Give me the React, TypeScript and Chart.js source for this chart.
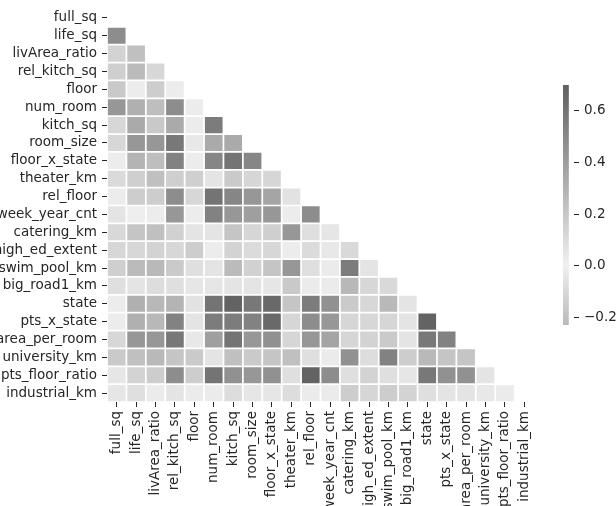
import React, { useEffect, useRef } from 'react';
import { Chart, registerables } from 'chart.js';

Chart.register(...registerables);

const variables = [
  'full_sq', 'life_sq', 'livArea_ratio', 'rel_kitch_sq', 'floor', 'num_room', 'kitch_sq',
  'room_size', 'floor_x_state', 'theater_km', 'rel_floor', 'week_year_cnt', 'catering_km',
  'high_ed_extent', 'swim_pool_km', 'big_road1_km', 'state', 'pts_x_state', 'area_per_room',
  'university_km', 'pts_floor_ratio', 'industrial_km',
];

// Lower triangle of the correlation matrix: each row holds the values against the earlier variables
const fullSqRow: number[] = [];
const lifeSqRow = [0.48];
const livAreaRatioRow = [-0.12, 0.23];
const relKitchSqRow = [-0.14, -0.22, 0.12];
const floorRow = [0.19, 0.02, 0.17, 0.02];
const numRoomRow = [0.43, 0.31, 0.24, 0.48, 0.02];
const kitchSqRow = [0.12, 0.34, 0.19, 0.34, 0.02, 0.56];
const roomSizeRow = [0.12, 0.43, 0.43, 0.58, 0.04, 0.34, 0.34];
const floorXStateRow = [0.02, 0.29, 0.24, 0.53, 0.02, 0.51, 0.6, 0.51];
const theaterKmRow = [-0.09, -0.14, -0.2, -0.14, -0.14, -0.05, -0.16, -0.11, -0.11];
const relFloorRow = [0.02, 0.17, 0.17, 0.48, 0.12, 0.6, 0.51, 0.43, 0.36, -0.06];
const weekYearCntRow = [0.06, 0.01, 0.02, 0.43, 0.02, 0.53, 0.43, 0.39, 0.43, 0.02, 0.48];
const cateringKmRow = [-0.1, -0.18, -0.2, -0.13, -0.05, -0.05, -0.18, -0.11, -0.14, 0.43, -0.07, -0.04];
const highEdExtentRow = [0.12, 0.12, 0.14, 0.12, 0.17, 0.02, 0.14, 0.1, 0.12, 0.02, 0.1, 0.04, 0.11];
const swimPoolKmRow = [-0.14, -0.22, -0.23, -0.16, -0.07, -0.05, -0.22, -0.13, -0.18, 0.43, -0.07, -0.02, 0.56, -0.05];
const bigRoad1KmRow = [-0.07, -0.05, -0.08, -0.07, -0.04, -0.04, -0.05, -0.05, -0.04, 0.19, -0.02, -0.02, 0.27, 0.12, 0.11];
const stateRow = [0.02, 0.31, 0.27, 0.29, 0.07, 0.6, 0.68, 0.58, 0.65, -0.18, 0.56, 0.46, -0.16, 0.12, -0.23, -0.05];
const ptsXStateRow = [0.02, 0.31, 0.27, 0.53, 0.06, 0.56, 0.56, 0.53, 0.65, -0.11, 0.48, 0.43, -0.11, 0.12, -0.11, -0.05, 0.68];
const areaPerRoomRow = [0.12, 0.43, 0.43, 0.58, 0.04, 0.39, 0.6, 0.43, 0.46, -0.11, 0.43, 0.36, -0.11, 0.14, -0.16, -0.05, 0.58, 0.53];
const universityKmRow = [-0.16, -0.2, -0.23, -0.18, -0.16, -0.05, -0.2, -0.16, -0.18, 0.23, -0.07, -0.02, 0.46, -0.08, 0.53, 0.17, -0.23, -0.18, -0.18];
const ptsFloorRatioRow = [0.05, 0.14, 0.17, 0.48, 0.17, 0.6, 0.46, 0.43, 0.46, -0.07, 0.68, 0.48, -0.07, 0.14, -0.07, -0.04, 0.58, 0.46, 0.46, -0.05];
const industrialKmRow = [-0.04, -0.07, -0.02, -0.05, -0.02, -0.02, -0.08, -0.04, -0.04, 0.09, -0.02, -0.02, 0.17, -0.11, 0.17, 0.14, -0.07, -0.05, -0.05, 0.04, -0.02];

const corrRows = [
  fullSqRow, lifeSqRow, livAreaRatioRow, relKitchSqRow, floorRow, numRoomRow, kitchSqRow,
  roomSizeRow, floorXStateRow, theaterKmRow, relFloorRow, weekYearCntRow, cateringKmRow,
  highEdExtentRow, swimPoolKmRow, bigRoad1KmRow, stateRow, ptsXStateRow, areaPerRoomRow,
  universityKmRow, ptsFloorRatioRow, industrialKmRow,
];

const colorbarTicks = [-0.2, 0, 0.2, 0.4, 0.6];
const vmin = -0.23;
const vmax = 0.7;

const FONT = { family: 'DejaVu Sans', size: 13.5 };
const TEXT = '#262626';

function grayFor(v: number): string {
  let g: number;
  if (v >= 0) g = 240 - (240 - 95) * Math.min(v, vmax) / vmax;
  else g = 240 - (240 - 185) * Math.min(-v, -vmin) / -vmin;
  const c = Math.round(g);
  return `rgb(${c},${c},${c})`;
}

function zeroPad(s: any) {
  s.paddingTop = 0;
  s.paddingBottom = 0;
  s.paddingLeft = 0;
  s.paddingRight = 0;
}

export default function App() {
  const mainRef = useRef<HTMLCanvasElement>(null);
  const barRef = useRef<HTMLCanvasElement>(null);

  useEffect(() => {
    const datasets = corrRows.map((row, i) => ({
      label: variables[i],
      data: variables.map((_, j) => (j < i ? [i - 0.5, i + 0.5] : null)),
      backgroundColor: (ctx: any) => grayFor(row[ctx.dataIndex] ?? 0),
      borderColor: '#ffffff',
      borderWidth: 1.2,
      borderSkipped: false,
      grouped: false,
      barPercentage: 1,
      categoryPercentage: 1,
    }));

    const main = new Chart(mainRef.current!, {
      type: 'bar',
      data: { labels: variables, datasets: datasets as any },
      options: {
        responsive: false,
        animation: false,
        events: [],
        layout: { padding: { left: 0, right: 82, top: 9, bottom: 0 } },
        plugins: { legend: { display: false }, tooltip: { enabled: false } },
        scales: {
          x: {
            type: 'category',
            offset: true,
            grid: { display: true, offset: false, drawOnChartArea: false, drawTicks: true, tickLength: 5, tickColor: TEXT, tickWidth: 1 },
            border: { display: false },
            ticks: { autoSkip: false, maxRotation: 90, minRotation: 90, padding: 4, font: FONT, color: TEXT },
            afterFit: (s: any) => { s.height = 104; zeroPad(s); },
          },
          y: {
            type: 'linear',
            reverse: true,
            min: -0.5,
            max: 21.5,
            afterBuildTicks: (s: any) => { s.ticks = variables.map((_, i) => ({ value: i })); },
            grid: { display: true, drawOnChartArea: false, drawTicks: true, tickLength: 5, tickColor: TEXT, tickWidth: 1 },
            border: { display: false },
            ticks: { autoSkip: false, padding: 5, font: FONT, color: TEXT, callback: (v: any) => variables[v as number] },
            afterFit: (s: any) => { s.width = 107; zeroPad(s); },
          },
        },
      },
    });

    const bar = new Chart(barRef.current!, {
      type: 'bar',
      data: {
        labels: ['colorbar'],
        datasets: [{
          data: [[vmin, vmax]] as any,
          backgroundColor: (ctx: any) => {
            const area = ctx.chart.chartArea;
            if (!area) return '#999';
            const g = ctx.chart.ctx.createLinearGradient(0, area.bottom, 0, area.top);
            g.addColorStop(0, grayFor(vmin));
            g.addColorStop((0 - vmin) / (vmax - vmin), grayFor(0));
            g.addColorStop(1, grayFor(vmax));
            return g;
          },
          borderWidth: 0,
          barPercentage: 1,
          categoryPercentage: 1,
        }],
      },
      options: {
        responsive: false,
        animation: false,
        events: [],
        layout: { padding: { left: 10, right: 0, top: 5, bottom: 5 } },
        plugins: { legend: { display: false }, tooltip: { enabled: false } },
        scales: {
          x: { display: false, offset: false },
          y: {
            position: 'right',
            min: vmin,
            max: vmax,
            afterBuildTicks: (s: any) => { s.ticks = colorbarTicks.map((v) => ({ value: v })); },
            grid: { display: true, drawOnChartArea: false, drawTicks: true, tickLength: 5, tickColor: TEXT },
            border: { display: false },
            ticks: {
              padding: 5, font: FONT, color: TEXT,
              callback: (v: any) => (v < -1e-9 ? '\u2212' + Math.abs(v).toFixed(1) : Math.abs(v).toFixed(1)),
            },
            afterFit: (s: any) => { s.width = 42; zeroPad(s); },
          },
        },
      },
    });

    return () => { main.destroy(); bar.destroy(); };
  }, []);

  return (
    <div>
      <canvas ref={mainRef} width={616} height={506} style={{ position: 'absolute', left: 0, top: 0 }} />
      <canvas ref={barRef} width={63} height={250} style={{ position: 'absolute', left: 553, top: 80 }} />
    </div>
  );
}
